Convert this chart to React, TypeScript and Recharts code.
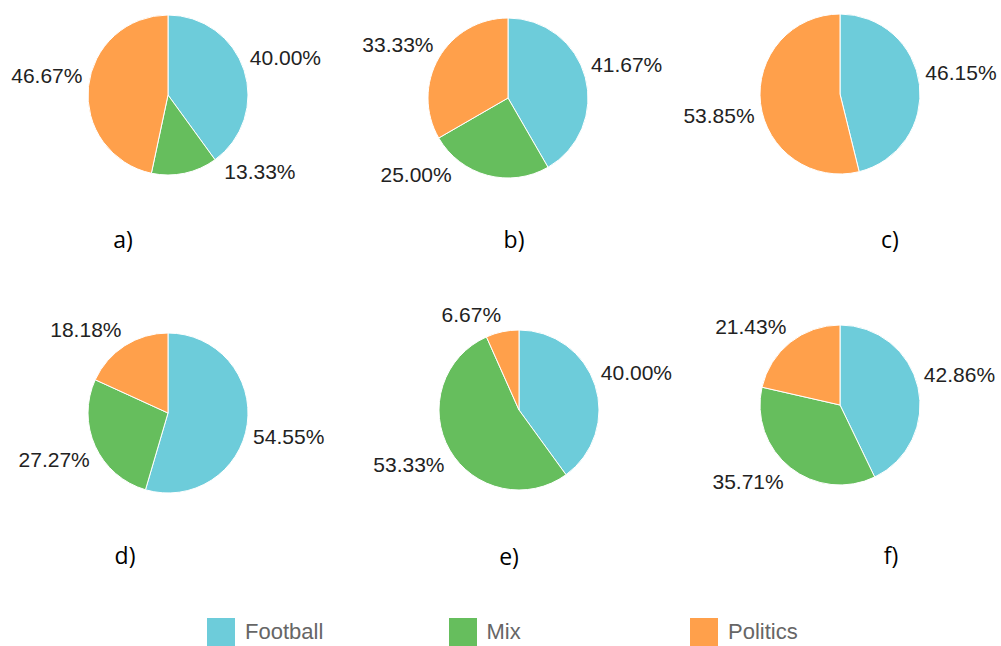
import React from 'react';
import { PieChart, Pie, Cell, Legend } from 'recharts';

const categories = ['Football', 'Mix', 'Politics'];
const colors = ['#6dccda', '#66be5d', '#ffa04b'];
const panelLabels = ['a)', 'b)', 'c)', 'd)', 'e)', 'f)'];

// answers per category for each panel a) .. f)
const football = [6, 5, 6, 6, 6, 6];
const mix = [2, 3, 0, 3, 8, 5];
const politics = [7, 4, 7, 2, 1, 3];

// layout of the 2x3 grid (pie centres are relative to the chart's 5px margin)
const pieCenters = [
  [163, 90],
  [503, 93],
  [835, 89],
  [163, 408],
  [514, 405],
  [835, 400],
];
const panelLabelPos = [
  [123, 248],
  [514, 248],
  [890, 248],
  [125, 564],
  [509, 565],
  [891, 564],
];

const RAD = Math.PI / 180;
const labelFont = 'Arial, "Liberation Sans", sans-serif';

const panelData = (i: number) =>
  [football[i], mix[i], politics[i]]
    .map((value, k) => ({ name: categories[k], value, color: colors[k] }))
    .filter((d) => d.value > 0);

// percentage text sits just outside the rim, its nearest corner on the slice's mid angle
const renderLabel = (props: any) => {
  const { cx, cy, midAngle, outerRadius, percent, value } = props;
  if (!value) return null;
  const R = outerRadius + 6;
  const h = 11;
  const c = Math.cos(-midAngle * RAD);
  const s = Math.sin(-midAngle * RAD);
  const right = c >= 0;
  let x = cx + R * c;
  let yc = s < 0 ? cy + R * s - h : cy + R * s + h;
  const maxY = cy + outerRadius - 4;
  if (yc > maxY) {
    yc = maxY;
    const dy = yc - h - cy;
    const dx = Math.sqrt(Math.max(R * R - dy * dy, 0));
    x = right ? cx + dx : cx - dx;
  }
  return (
    <text
      x={x}
      y={yc + 7.5}
      textAnchor={right ? 'start' : 'end'}
      fontFamily={labelFont}
      fontSize={21}
      fill="#222"
    >
      {(percent * 100).toFixed(2) + '%'}
    </text>
  );
};

const renderLegend = () => (
  <div style={{ position: 'relative', height: 32 }}>
    {categories.map((name, i) => (
      <div
        key={name}
        style={{ position: 'absolute', left: 207 + i * 241.5, top: 0, display: 'flex', alignItems: 'center' }}
      >
        <div style={{ width: 28, height: 28, background: colors[i] }} />
        <span style={{ marginLeft: 10, fontFamily: labelFont, fontSize: 22, color: '#666' }}>{name}</span>
      </div>
    ))}
  </div>
);

export default function App() {
  return (
    <div style={{ position: 'absolute', left: 0, top: 0, width: 1001, height: 646, background: '#fff', overflow: 'hidden' }}>
      <PieChart width={1001} height={646}>
        {pieCenters.map(([cx, cy], i) => (
          <Pie
            key={panelLabels[i]}
            data={panelData(i)}
            dataKey="value"
            nameKey="name"
            cx={cx}
            cy={cy}
            outerRadius={80}
            startAngle={90}
            endAngle={-270}
            stroke="#fff"
            strokeWidth={1}
            labelLine={false}
            label={renderLabel}
            isAnimationActive={false}
          >
            {panelData(i).map((d) => (
              <Cell key={d.name} fill={d.color} />
            ))}
          </Pie>
        ))}
        {panelLabelPos.map(([x, y], i) => (
          <text
            key={panelLabels[i]}
            x={x}
            y={y}
            textAnchor="middle"
            fontFamily='"Open Sans", sans-serif'
            fontSize={23}
            fill="#000"
          >
            {panelLabels[i]}
          </text>
        ))}
        <Legend content={renderLegend} wrapperStyle={{ left: 0, top: 618, width: 1001 }} />
      </PieChart>
    </div>
  );
}
